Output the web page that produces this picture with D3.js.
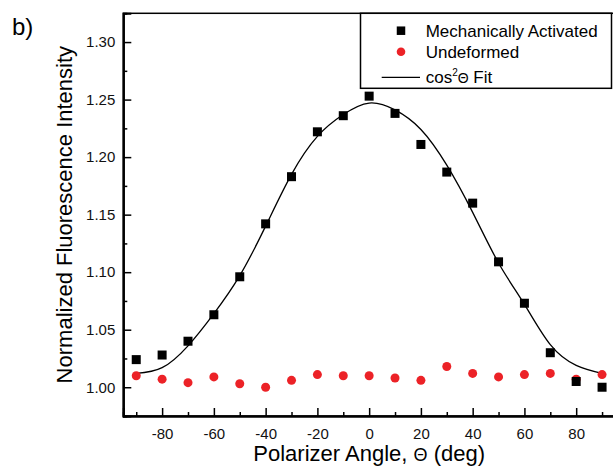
<!DOCTYPE html>
<html>
<head>
<meta charset="utf-8">
<script src="https://cdnjs.cloudflare.com/ajax/libs/d3/7.8.5/d3.min.js"></script>
<style>
body { margin: 0; background: #fff; }
svg { display: block; font-family: "Liberation Sans", Arial, sans-serif; }
</style>
</head>
<body>
<div id="chart"></div>
<script>
// values
const angles = [-90, -80, -70, -60, -50, -40, -30, -20, -10, 0, 10, 20, 30, 40, 50, 60, 70, 80, 90];
const activated = [1.024, 1.028, 1.040, 1.063, 1.096, 1.142, 1.183, 1.222, 1.236, 1.253, 1.238, 1.211, 1.187, 1.160, 1.109, 1.073, 1.030, 1.005, 1.000];
const undeformed = [1.010, 1.007, 1.004, 1.009, 1.003, 1.000, 1.006, 1.011, 1.010, 1.010, 1.008, 1.006, 1.018, 1.012, 1.009, 1.011, 1.012, 1.007, 1.011];
const fitValues = [1.012, 1.017, 1.036, 1.064, 1.097, 1.140, 1.185, 1.218, 1.237, 1.247, 1.241, 1.224, 1.193, 1.152, 1.108, 1.072, 1.037, 1.019, 1.012];
const xMajor = [-80, -60, -40, -20, 0, 20, 40, 60, 80];
const xMinor = [-90, -70, -50, -30, -10, 10, 30, 50, 70, 90];
const yMajor = [1.00, 1.05, 1.10, 1.15, 1.20, 1.25, 1.30];
const yMinor = [1.025, 1.075, 1.125, 1.175, 1.225, 1.275];
const legendLabels = ["Mechanically Activated", "Undeformed", "Fit"];

const width = 613, height = 468;
const plot = {left: 123.3, top: 13.3, right: 615, bottom: 416};
const red = "#ec2227";

const svg = d3.select("#chart").append("svg")
	.attr("width", width)
	.attr("height", height);

const x = d3.scaleLinear().domain([-95, 95]).range([plot.left, plot.right]);
const y = d3.scaleLinear().domain([0.975, 1.325]).range([plot.bottom, plot.top]);

// frame
svg.append("rect")
	.attr("x", plot.left).attr("y", plot.top)
	.attr("width", plot.right - plot.left).attr("height", plot.bottom - plot.top)
	.attr("fill", "none").attr("stroke", "#000").attr("stroke-width", 1.5);

// axes, ticks pointing inward
svg.append("g")
	.attr("transform", `translate(${plot.left},0)`)
	.call(d3.axisLeft(y).tickValues(yMajor).tickSize(-8).tickPadding(8).tickFormat(d => d.toFixed(2)));
svg.append("g")
	.attr("transform", `translate(${plot.left},0)`)
	.call(d3.axisLeft(y).tickValues(yMinor).tickSize(-4).tickFormat(""));

svg.append("g")
	.attr("transform", `translate(0,${plot.bottom})`)
	.call(d3.axisBottom(x).tickValues(xMajor).tickSize(-8).tickPadding(12).tickFormat(d => String(d)));
svg.append("g")
	.attr("transform", `translate(0,${plot.bottom})`)
	.call(d3.axisBottom(x).tickValues(xMinor).tickSize(-4).tickFormat(""));

svg.selectAll(".domain").attr("stroke-width", 2).attr("stroke", "#000");
svg.selectAll(".tick line").attr("stroke-width", 1.5).attr("stroke", "#000");
svg.selectAll(".tick text").attr("font-size", 15).attr("fill", "#111")
	.attr("font-family", "'Liberation Sans', Arial, sans-serif");

// fit curve
const line = d3.line()
	.x((d, i) => x(angles[i]))
	.y(d => y(d))
	.curve(d3.curveNatural);
svg.append("path")
	.datum(fitValues)
	.attr("d", line)
	.attr("fill", "none")
	.attr("stroke", "#000")
	.attr("stroke-width", 1.3);

// undeformed (red circles)
svg.selectAll("circle.und")
	.data(undeformed)
	.enter().append("circle")
	.attr("class", "und")
	.attr("cx", (d, i) => x(angles[i]))
	.attr("cy", d => y(d))
	.attr("r", 4.5)
	.attr("fill", red);

// mechanically activated (black squares)
const sq = 9;
svg.selectAll("rect.act")
	.data(activated)
	.enter().append("rect")
	.attr("class", "act")
	.attr("x", (d, i) => x(angles[i]) - sq / 2)
	.attr("y", d => y(d) - sq / 2)
	.attr("width", sq).attr("height", sq)
	.attr("fill", "#000");

// axis titles
svg.append("text")
	.attr("x", x(0)).attr("y", 461)
	.attr("text-anchor", "middle")
	.attr("font-size", 22)
	.call(t => {
		t.append("tspan").text("Polarizer Angle, ");
		t.append("tspan").attr("font-size", 18).text("Θ");
		t.append("tspan").text(" (deg)");
	});

svg.append("text")
	.attr("transform", `translate(72,${(plot.top + plot.bottom) / 2}) rotate(-90)`)
	.attr("text-anchor", "middle")
	.attr("font-size", 22)
	.text("Normalized Fluorescence Intensity");

svg.append("text")
	.attr("x", 12).attr("y", 35)
	.attr("font-size", 24)
	.text("b)");

// legend
const lg = svg.append("g");
lg.append("rect")
	.attr("x", 360.5).attr("y", plot.top)
	.attr("width", 251).attr("height", 75)
	.attr("fill", "#fff").attr("stroke", "#000").attr("stroke-width", 1.5);

lg.append("rect")
	.attr("x", 401 - 4.25).attr("y", 30.7 - 4.25)
	.attr("width", 8.5).attr("height", 8.5)
	.attr("fill", "#000");
lg.append("circle")
	.attr("cx", 401).attr("cy", 51.7).attr("r", 4.3)
	.attr("fill", red);
lg.append("line")
	.attr("x1", 381.7).attr("x2", 420)
	.attr("y1", 77.3).attr("y2", 77.3)
	.attr("stroke", "#000").attr("stroke-width", 1.3);

lg.append("text").attr("x", 425.7).attr("y", 36.5).attr("font-size", 17).text(legendLabels[0]);
lg.append("text").attr("x", 425.7).attr("y", 57.5).attr("font-size", 17).text(legendLabels[1]);
lg.append("text").attr("x", 425.7).attr("y", 83.3).attr("font-size", 17)
	.call(t => {
		t.append("tspan").text("cos");
		t.append("tspan").attr("font-size", 10).attr("dy", -7).text("2");
		t.append("tspan").attr("font-size", 14).attr("dy", 7).text("Θ");
		t.append("tspan").text(" " + legendLabels[2]);
	});
</script>
</body>
</html>
